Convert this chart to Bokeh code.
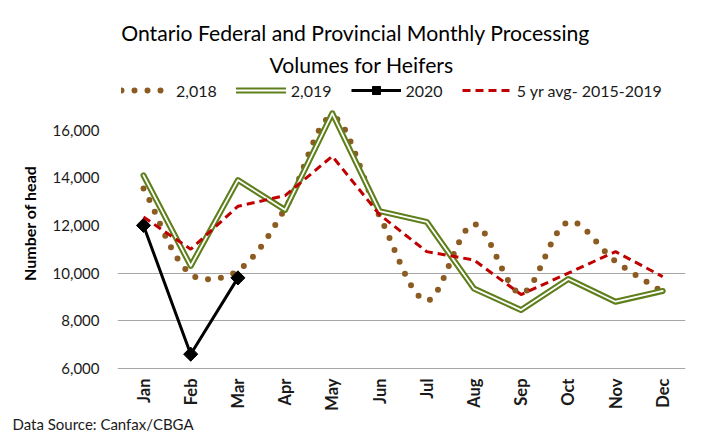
import numpy as np
from bokeh.plotting import figure
from bokeh.models import Range1d, FixedTicker, NumeralTickFormatter, Label, Legend, LegendItem, Title
from bokeh.embed import file_html
from bokeh.resources import INLINE

# ---------------- data ----------------
months = ["Jan", "Feb", "Mar", "Apr", "May", "Jun", "Jul", "Aug", "Sep", "Oct", "Nov", "Dec"]
y_ticks = [6000, 8000, 10000, 12000, 14000, 16000]
grid_ticks = [6000, 8000, 10000]
s2018 = [13550, 9950, 10100, 12700, 16550, 12400, 8850, 12050, 9150, 12150, 10500, 9200]
s2019 = [14100, 10300, 13900, 12650, 16700, 12600, 12150, 9350, 8450, 9750, 8800, 9250]
s2020 = [12000, 6600, 9800]
avg5 = [12350, 11000, 12800, 13250, 14900, 12450, 10900, 10550, 9100, 10000, 10900, 9850]

FONT = "Lato"
BROWN = "#8c5b22"
GREEN = "#5f7f1c"
RED = "#c00000"

# ---------------- layout geometry ----------------
W, H = 700, 433
BL, BR, BT, BB = 117, 15, 0, 63
frame_w = W - BL - BR
frame_h = H - BT - BB
px_per_month = 47.2
px_per_unit_y = 23.85 / 1000.0
x0 = -26.0 / px_per_month
x1 = x0 + frame_w / px_per_month
y0 = 6000 - 2.0 / px_per_unit_y  # a little room below the 6,000 gridline
y1 = y0 + frame_h / px_per_unit_y

def px2x(px):
    return x0 + (px - BL) / px_per_month

def py2y(py):
    return y0 + (H - BB - py) / px_per_unit_y

p = figure(width=W, height=H, output_backend="svg", toolbar_location=None,
           title=None, x_range=Range1d(x0, x1), y_range=Range1d(y0, y1),
           min_border_left=BL, min_border_right=BR, min_border_top=BT, min_border_bottom=BB)
p.outline_line_color = None
p.background_fill_color = "white"
p.border_fill_color = "white"

# axes
for ax in (p.xaxis[0], p.yaxis[0]):
    ax.axis_line_color = None
    ax.major_tick_line_color = None
    ax.minor_tick_line_color = None
    ax.major_tick_out = 0
    ax.major_tick_in = 0
    ax.minor_tick_out = 0
    ax.minor_tick_in = 0
    ax.axis_label_standoff = 0

p.xaxis.ticker = FixedTicker(ticks=list(range(len(months))))
p.xaxis.major_label_overrides = {i: m for i, m in enumerate(months)}
p.xaxis.major_label_orientation = np.pi / 2
p.xaxis.major_label_text_font = FONT
p.xaxis.major_label_text_font_style = "bold"
p.xaxis.major_label_text_font_size = "16.5px"
p.xaxis.major_label_text_color = "#1a1a1a"
p.xaxis.major_label_standoff = 8

p.yaxis.ticker = FixedTicker(ticks=y_ticks)
p.yaxis.formatter = NumeralTickFormatter(format="0,0")
p.yaxis.major_label_text_font = FONT
p.yaxis.major_label_text_font_size = "15px"
p.yaxis.major_label_text_color = "#1a1a1a"
p.yaxis.major_label_standoff = 18

p.xgrid.grid_line_color = None
p.ygrid.grid_line_color = None
# horizontal gridlines only at the lower tick values, as in the source chart
p.hspan(y=grid_ticks, line_color="#a6a6a6", line_width=1)

# ---------------- series ----------------
xs = np.arange(len(months), dtype=float)

def smooth(xv, yv, n=30):
    # Excel-like smoothing: Bezier segments with chord-length scaled tangents (screen space)
    P = np.column_stack([np.asarray(xv, float) * px_per_month,
                         np.asarray(yv, float) * px_per_unit_y])
    E = np.vstack([P[0], P, P[-1]])
    out = []
    for i in range(len(P) - 1):
        p0, p1, p2, p3 = E[i], E[i + 1], E[i + 2], E[i + 3]
        d01 = np.linalg.norm(p1 - p0)
        d12 = np.linalg.norm(p2 - p1)
        d23 = np.linalg.norm(p3 - p2)
        f1 = d12 / (d01 + d12) / 3.0 if d01 + d12 > 0 else 0
        f2 = d12 / (d12 + d23) / 3.0 if d12 + d23 > 0 else 0
        c1 = p1 + (p2 - p0) * f1
        c2 = p2 - (p3 - p1) * f2
        t = np.linspace(0, 1, n, endpoint=(i == len(P) - 2))[:, None]
        b = (1 - t) ** 3 * p1 + 3 * (1 - t) ** 2 * t * c1 + 3 * (1 - t) * t ** 2 * c2 + t ** 3 * p2
        out.append(b)
    B = np.vstack(out)
    return B[:, 0] / px_per_month, B[:, 1] / px_per_unit_y

sx18, sy18 = smooth(xs, s2018)
r18 = p.line(sx18, sy18, line_color=BROWN, line_width=6, line_dash="0 13", line_cap="round")

r19a = p.line(xs, s2019, line_color=GREEN, line_width=6, line_join="round", line_cap="round")
r19b = p.line(xs, s2019, line_color="white", line_width=1.8, line_join="round", line_cap="round")

r20l = p.line(xs[:len(s2020)], s2020, line_color="black", line_width=3)
r20m = p.scatter(xs[:len(s2020)], s2020, marker="square", angle=np.pi / 4, size=10,
                 fill_color="black", line_color="black")

ravg = p.line(xs, avg5, line_color=RED, line_width=3, line_dash="8 5")

legend = Legend(items=[
    LegendItem(label="2,018", renderers=[r18]),
    LegendItem(label="2,019", renderers=[r19a, r19b]),
    LegendItem(label="2020", renderers=[r20l, r20m]),
    LegendItem(label="5 yr avg- 2015-2019", renderers=[ravg]),
], orientation="horizontal", location=(4, 270))
legend.border_line_color = None
legend.background_fill_alpha = 0
legend.padding = 0
legend.margin = 0
legend.spacing = 19
legend.glyph_width = 50
legend.glyph_height = 20
legend.label_standoff = 5
legend.label_text_font = FONT
legend.label_text_font_size = "16px"
legend.label_text_color = "#1a1a1a"
p.add_layout(legend)

# ---------------- texts ----------------
title1 = "Ontario Federal and Provincial Monthly Processing"
title2 = "Volumes for Heifers"
for txt, px, py in [(title1, 355, 32), (title2, 361, 64)]:
    p.add_layout(Label(x=px2x(px), y=py2y(py), text=txt, text_align="center",
                       text_baseline="middle", text_font=FONT, text_font_size="21.2px",
                       text_color="black"))

ylab = Title(text="Number of head", align="right", offset=165, vertical_align="middle",
             standoff=20, text_font=FONT, text_font_style="bold", text_font_size="16px",
             text_color="black")
p.add_layout(ylab, "left")

src = Title(text="Data Source: Canfax/CBGA", align="left", offset=12 - BL, vertical_align="middle",
            standoff=0, text_font=FONT, text_font_style="normal", text_font_size="15px",
            text_color="#1a1a1a")
p.add_layout(src, "below")

open("out.html", "w").write(file_html(p, INLINE))
